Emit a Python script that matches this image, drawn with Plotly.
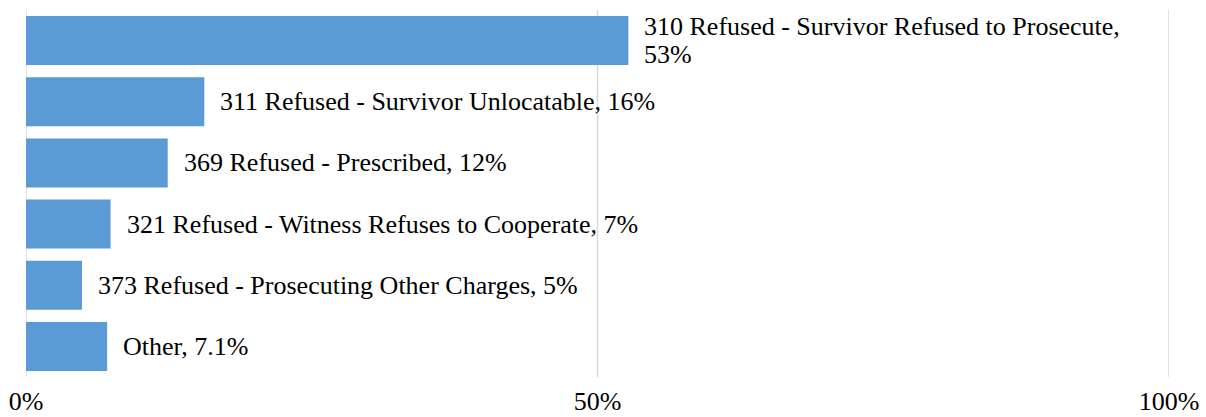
import plotly.graph_objects as go

categories = [
    "310 Refused - Survivor Refused to Prosecute",
    "311 Refused - Survivor Unlocatable",
    "369 Refused - Prescribed",
    "321 Refused - Witness Refuses to Cooperate",
    "373 Refused - Prosecuting Other Charges",
    "Other",
]
values = [52.7, 15.6, 12.4, 7.4, 4.9, 7.1]
label_texts = [
    "310 Refused - Survivor Refused to Prosecute,<br>53%",
    "311 Refused - Survivor Unlocatable, 16%",
    "369 Refused - Prescribed, 12%",
    "321 Refused - Witness Refuses to Cooperate, 7%",
    "373 Refused - Prosecuting Other Charges, 5%",
    "Other, 7.1%",
]
tick_vals = [0, 50, 100]
tick_text = ["0%", "50%", "100%"]

FONT = "Liberation Serif"
FS = 26
LINE_H = 28

fig = go.Figure()
for tv in tick_vals:
    fig.add_shape(type="line", xref="x", yref="paper", x0=tv, x1=tv, y0=0, y1=1,
                  line=dict(color="#D9D9D9", width=1.5), layer="below")

fig.add_trace(go.Bar(
    x=values, y=categories, orientation="h",
    marker=dict(color="#5B9BD5", line=dict(width=0)),
    width=0.8, hoverinfo="skip",
))
for v, c, t in zip(values, categories, label_texts):
    lines = t.split("<br>")
    n = len(lines)
    for i, ln in enumerate(lines):
        off = ((n - 1) / 2 - i) * LINE_H
        fig.add_annotation(x=v, y=c, text=ln, showarrow=False, xanchor="left",
                           yanchor="middle", align="left", xshift=14, yshift=off,
                           font=dict(family=FONT, size=FS, color="#000000"))

fig.update_layout(
    width=1206, height=417,
    margin=dict(l=26, r=37, t=10, b=40),
    paper_bgcolor="white", plot_bgcolor="white",
    showlegend=False,
    font=dict(family=FONT, size=FS, color="#000000"),
    xaxis=dict(range=[0, 100], tickvals=tick_vals, ticktext=tick_text,
               showgrid=False, zeroline=False, showline=False, automargin=False,
               ticks="outside", ticklen=1, tickcolor="rgba(0,0,0,0)",
               tickfont=dict(family=FONT, size=FS, color="#000000")),
    yaxis=dict(autorange="reversed", showticklabels=False, showgrid=False,
               zeroline=False, showline=False, automargin=False),
)
fig.write_html(
    "out.html",
    config={"displayModeBar": False},
    post_script="document.body.style.margin='0';document.body.style.overflow='hidden';",
)
